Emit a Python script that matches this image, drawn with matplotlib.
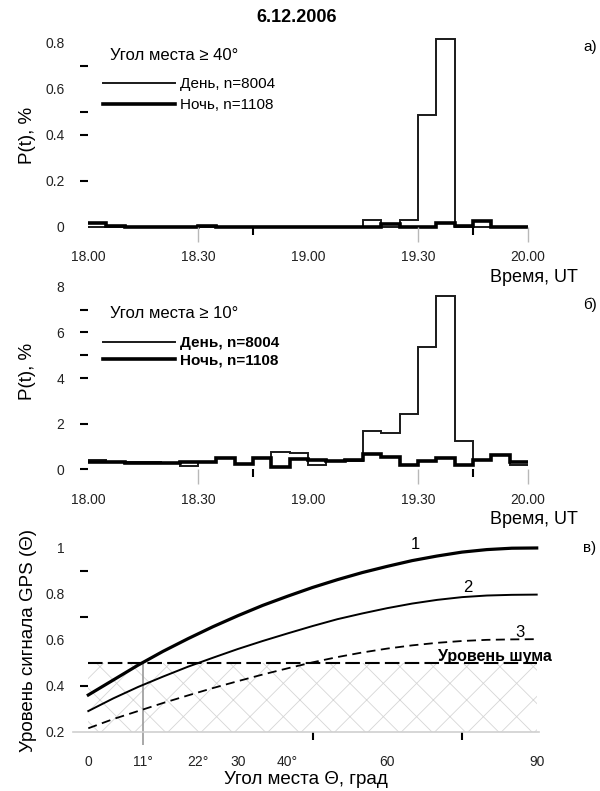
import numpy as np
import matplotlib
matplotlib.use("Agg")
import matplotlib.pyplot as plt
from matplotlib.lines import Line2D

plt.rcParams['font.family'] = ['Liberation Sans', 'DejaVu Sans']
plt.rcParams['hatch.linewidth'] = 0.6

# ---------------- data ----------------
# 5-minute bins from 18:00 to 20:00 UT (minutes after 18:00)
bin_edges = np.arange(0, 125, 5)
time_ticks = [0, 30, 60, 90, 120]
time_labels = ['18.00', '18.30', '19.00', '19.30', '20.00']

# elevation > 40 deg
day_40 = [0, 0, 0, 0, 0, 0, 0, 0, 0, 0, 0, 0,
          0, 0, 0, 0.029, 0, 0.029, 0.486, 0.816, 0, 0, 0, 0]
night_40 = [0.016, 0.005, 0, 0, 0, 0, 0.005, 0, 0, 0, 0, 0,
            0, 0, 0, 0, 0.012, 0, 0, 0.017, 0.004, 0.024, 0, 0]

# elevation > 10 deg
day_10 = [0.42, 0.33, 0.30, 0.30, 0.28, 0.16, 0.33, 0.50, 0.25, 0.48, 0.78, 0.70,
          0.18, 0.37, 0.38, 1.68, 1.57, 2.44, 5.38, 7.60, 1.22, 0.40, 0.63, 0.20]
night_10 = [0.30, 0.30, 0.28, 0.28, 0.28, 0.30, 0.33, 0.50, 0.25, 0.50, 0.08, 0.45,
            0.42, 0.37, 0.42, 0.65, 0.52, 0.19, 0.37, 0.49, 0.19, 0.41, 0.63, 0.32]

legend_labels = ['День, n=8004', 'Ночь, n=1108']

# GPS signal level versus elevation angle
elev = [0, 5, 10, 15, 20, 25, 30, 35, 40, 45, 50, 55, 60, 65, 70, 75, 80, 85, 90]
signal_1 = [0.36, 0.425, 0.49, 0.55, 0.605, 0.657, 0.705, 0.75, 0.79, 0.828,
            0.862, 0.893, 0.92, 0.945, 0.965, 0.982, 0.993, 0.999, 1.0]
signal_2 = [0.29, 0.345, 0.395, 0.44, 0.483, 0.522, 0.56, 0.595, 0.628, 0.66,
            0.69, 0.715, 0.738, 0.758, 0.774, 0.786, 0.793, 0.796, 0.797]
signal_3 = [0.215, 0.255, 0.29, 0.325, 0.358, 0.39, 0.42, 0.449, 0.476, 0.502,
            0.525, 0.545, 0.562, 0.576, 0.587, 0.595, 0.60, 0.602, 0.603]
noise_level = 0.5
axis_floor = 0.2
crossing_angle = 11
elev_ticks = [0, 11, 22, 30, 40, 60, 90]
elev_labels = ['0', '11°', '22°', '30', '40°', '60', '90']

# ---------------- layout helpers ----------------
W, H = 600, 791
fig = plt.figure(figsize=(W / 100, H / 100), dpi=100)


def frame(left, top, right, bottom):
    return [left / W, 1 - bottom / H, (right - left) / W, (bottom - top) / H]


def fx(x):
    return x / W


def fy(y):
    return 1 - y / H


def tint(ticks, colors):
    for tick, c in zip(ticks, colors):
        if c is None:
            tick.tick1line.set_visible(False)
        else:
            tick.tick1line.set_color(c)


GREY = '#b8b8b8'
DAY_KW = dict(color='#1a1a1a', lw=1.4)
NIGHT_KW = dict(color='black', lw=2.6)


def histogram_panel(ax, day, night, ylim, yticks, ylabels, ytick_colors,
                    yminor, yminor_colors):
    ax.stairs(day, bin_edges, baseline=None, **DAY_KW)
    ax.stairs(night, bin_edges, baseline=None, **NIGHT_KW)
    ax.set_xlim(0, 120)
    ax.set_ylim(*ylim)
    for s in ax.spines.values():
        s.set_visible(False)
    ax.spines['bottom'].set_position(('data', 0))
    ax.set_xticks(time_ticks)
    ax.set_xticklabels(time_labels)
    ax.set_xticks([45, 105], minor=True)
    ax.tick_params(axis='x', which='major', length=11, width=1, color=GREY,
                   pad=6, labelsize=10, labelcolor='#222222')
    ax.tick_params(axis='x', which='minor', length=6, width=1.5, color='black')
    ax.set_yticks(yticks)
    ax.set_yticklabels(ylabels)
    ax.set_yticks(yminor, minor=True)
    ax.tick_params(axis='y', which='both', length=6, width=1.5, pad=11,
                   labelsize=10, labelcolor='#222222')
    tint(ax.xaxis.get_major_ticks(), [None, GREY, None, GREY, GREY])
    tint(ax.yaxis.get_major_ticks(), ytick_colors)
    tint(ax.yaxis.get_minor_ticks(), yminor_colors)
    return [Line2D([], [], **DAY_KW), Line2D([], [], **NIGHT_KW)]


# ---------------- panel а ----------------
ax_a = fig.add_axes(frame(88, 31.2, 528, 240.5))
h = histogram_panel(ax_a, day_40, night_40, (-0.06, 0.85),
                    [0, 0.2, 0.4, 0.6, 0.8], ['0', '0.2', '0.4', '0.6', '0.8'],
                    [None, 'black', GREY, None, None],
                    [0.5, 0.7], [GREY, 'black'])
ax_a.legend(h, legend_labels, loc='upper left',
            bbox_to_anchor=(fx(103), fy(77)), bbox_transform=fig.transFigure,
            frameon=False, handlelength=4.7, handletextpad=0.35,
            labelspacing=0.45, borderpad=0, borderaxespad=0, fontsize=11)
fig.text(fx(110), fy(55), 'Угол места ≥ 40°', ha='left', va='center', fontsize=12)

# ---------------- panel б ----------------
ax_b = fig.add_axes(frame(88, 279.85, 528, 483))
h = histogram_panel(ax_b, day_10, night_10, (-0.6, 8.3),
                    [0, 2, 4, 6, 8], ['0', '2', '4', '6', '8'],
                    ['black', 'black', GREY, GREY, None],
                    [5, 7], [GREY, 'black'])
ax_b.legend(h, legend_labels, loc='upper left',
            bbox_to_anchor=(fx(103), fy(336)), bbox_transform=fig.transFigure,
            frameon=False, handlelength=4.7, handletextpad=0.35,
            labelspacing=0.22, borderpad=0, borderaxespad=0,
            prop=dict(size=11, weight='bold'))
fig.text(fx(110), fy(313), 'Угол места ≥ 10°', ha='left', va='center', fontsize=12)

# ---------------- panel в ----------------
ax_c = fig.add_axes(frame(73.35, 534.2, 539.2, 747.8))
ax_c.fill_between([elev[0], elev[-1]], axis_floor, noise_level, facecolor='none',
                  edgecolor='#d6d6d6', hatch='x', linewidth=0)
ax_c.vlines(crossing_angle, 0.142, noise_level, color='#9a9a9a', lw=1.2)
ax_c.hlines(noise_level, elev[0], elev[-1], color='black', lw=1.5,
            linestyles=(0, (7, 2.5)))
ax_c.plot(elev, signal_3, color='black', lw=1.3, ls=(0, (5, 3)))
ax_c.plot(elev, signal_2, color='black', lw=1.4)
ax_c.plot(elev, signal_1, color='black', lw=2.3)
ax_c.text(65.6, 1.013, '1', ha='center', va='center', fontsize=12)
ax_c.text(76.2, 0.826, '2', ha='center', va='center', fontsize=12)
ax_c.text(86.6, 0.63, '3', ha='center', va='center', fontsize=12)
ax_c.text(81.6, 0.527, 'Уровень шума', ha='center', va='center', fontsize=11.5,
          fontweight='bold')

ax_c.set_xlim(-3, 90.5)
ax_c.set_ylim(0.13, 1.06)
for s in ax_c.spines.values():
    s.set_visible(False)
ax_c.spines['bottom'].set_visible(True)
ax_c.spines['bottom'].set_position(('data', axis_floor))
ax_c.spines['bottom'].set_color('#cfcfcf')
ax_c.spines['bottom'].set_linewidth(1.2)
ax_c.spines['left'].set_position(('data', 0))
ax_c.set_xticks(elev_ticks)
ax_c.set_xticklabels(elev_labels)
ax_c.set_xticks([45, 75], minor=True)
ax_c.tick_params(axis='x', which='major', length=11, pad=6, labelsize=10,
                 labelcolor='#222222')
ax_c.tick_params(axis='x', which='minor', length=6, width=1.5, color='black')
tint(ax_c.xaxis.get_major_ticks(), [None] * len(elev_ticks))
ax_c.set_yticks([0.2, 0.4, 0.6, 0.8, 1.0])
ax_c.set_yticklabels(['0.2', '0.4', '0.6', '0.8', '1'])
ax_c.set_yticks([0.7, 0.9], minor=True)
ax_c.tick_params(axis='y', which='both', length=6, width=1.5, pad=11,
                 labelsize=10, labelcolor='#222222')
tint(ax_c.yaxis.get_major_ticks(), [None, 'black', None, None, None])
tint(ax_c.yaxis.get_minor_ticks(), ['black', 'black'])
ax_c.set_xlabel('Угол места Θ, град', fontsize=13.5, labelpad=1)

# ---------------- figure texts ----------------
fig.text(fx(297), fy(17), '6.12.2006', ha='center', va='center', fontsize=13,
         fontweight='bold')
for label, y in [('а)', 47), ('б)', 305), ('в)', 548)]:
    fig.text(fx(590), fy(y), label, ha='center', va='center', fontsize=11)
for y in (277, 519):
    fig.text(fx(578), fy(y), 'Время, UT', ha='right', va='center', fontsize=13)
for y in (135, 371):
    fig.text(fx(27), fy(y), 'P(t), %', ha='center', va='center', rotation=90,
             fontsize=13.5)
fig.text(fx(29), fy(640), 'Уровень сигнала GPS (Θ)', ha='center', va='center',
         rotation=90, fontsize=13.5)

fig.savefig('out.png', dpi=100)
